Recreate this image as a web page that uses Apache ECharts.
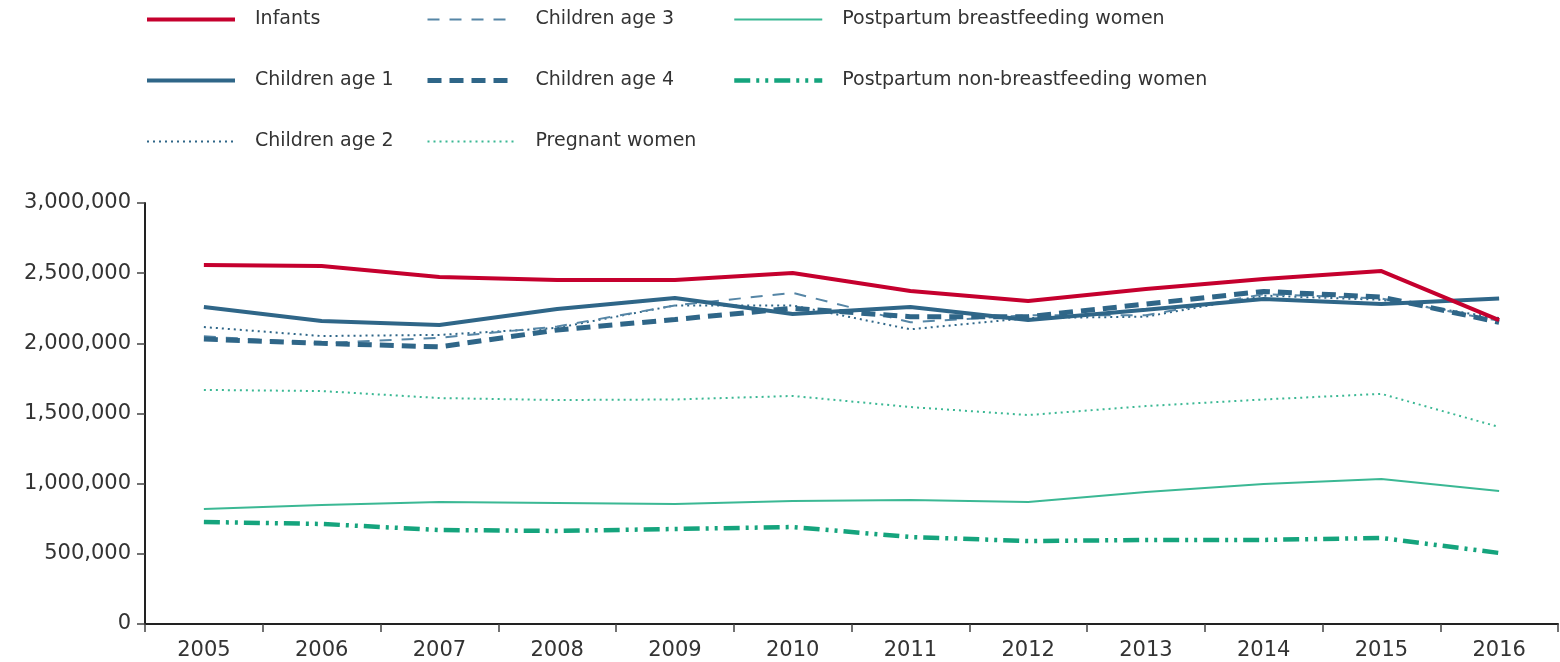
<!DOCTYPE html>
<html>
<head>
<meta charset="utf-8">
<script src="https://cdn.jsdelivr.net/npm/echarts@6/dist/echarts.min.js"></script>
<style>
  html, body { margin: 0; padding: 0; background: #fff; }
  #chart { width: 1560px; height: 662px; }
</style>
</head>
<body>
<div id="chart"></div>
<script>
// Years on the x axis
const years = ['2005', '2006', '2007', '2008', '2009', '2010', '2011', '2012', '2013', '2014', '2015', '2016'];

// Participants per category
const infants = [2558000, 2551000, 2473000, 2451000, 2451000, 2501000, 2373000, 2302000, 2387000, 2458000, 2515000, 2166000];
const childrenAge1 = [2259000, 2159000, 2131000, 2245000, 2323000, 2209000, 2259000, 2166000, 2240000, 2316000, 2280000, 2320000];
const childrenAge2 = [2116000, 2052000, 2060000, 2110000, 2270000, 2270000, 2100000, 2180000, 2190000, 2340000, 2310000, 2180000];
const childrenAge3 = [2050000, 2000000, 2040000, 2120000, 2270000, 2360000, 2150000, 2200000, 2200000, 2350000, 2320000, 2160000];
const childrenAge4 = [2030000, 2000000, 1975000, 2095000, 2170000, 2250000, 2190000, 2190000, 2280000, 2370000, 2330000, 2150000];
const pregnant = [1668000, 1660000, 1610000, 1596000, 1600000, 1625000, 1546000, 1489000, 1553000, 1600000, 1640000, 1404000];
const breastfeeding = [820000, 848000, 869000, 862000, 855000, 877000, 884000, 869000, 940000, 998000, 1033000, 948000];
const nonBreastfeeding = [727000, 713000, 670000, 663000, 677000, 691000, 620000, 591000, 599000, 599000, 613000, 506000];

const RED = '#c5002e';
const BLUE = '#2f6688';
const LIGHTBLUE = '#5686a6';
const GREEN = '#3bb894';
const DARKGREEN = '#15a47d';
const FONT = 'DejaVu Sans';

const chart = echarts.init(document.getElementById('chart'));

function line(name, data, color, width, type, z) {
  return {
    name: name,
    type: 'line',
    data: data,
    symbol: 'none',
    z: z || 2,
    lineStyle: { color: color, width: width, type: type },
    itemStyle: { color: color },
    emphasis: { disabled: true }
  };
}

const legendBase = {
  orient: 'vertical',
  top: 5,
  itemWidth: 88,
  itemHeight: 14,
  itemGap: 42,
  itemStyle: { opacity: 0 },
  lineStyle: { width: 'inherit' },
  textStyle: { fontFamily: FONT, fontSize: 19, color: '#333', padding: [0, 0, 0, 15] },
  selectedMode: false
};

const option = {
  animation: false,
  textStyle: { fontFamily: FONT },
  legend: [
    Object.assign({}, legendBase, { left: 140, data: ['Infants', 'Children age 1', 'Children age 2'] }),
    Object.assign({}, legendBase, { left: 420, data: ['Children age 3', 'Children age 4', 'Pregnant women'] }),
    Object.assign({}, legendBase, { left: 727, data: ['Postpartum breastfeeding women', 'Postpartum non-breastfeeding women'] })
  ],
  grid: { left: 145, right: 2, top: 203, bottom: 38, containLabel: false },
  xAxis: {
    type: 'category',
    data: years,
    boundaryGap: true,
    axisLine: { lineStyle: { color: '#222', width: 2 } },
    axisTick: { show: true, length: 8, lineStyle: { color: '#444', width: 1.5 } },
    axisLabel: { color: '#333', fontSize: 21, margin: 16, fontFamily: FONT }
  },
  yAxis: {
    type: 'value',
    min: 0,
    max: 3000000,
    interval: 500000,
    splitLine: { show: false },
    axisLine: { show: true, lineStyle: { color: '#222', width: 2 } },
    axisTick: { show: true, length: 8, lineStyle: { color: '#444', width: 1.5 } },
    axisLabel: {
      color: '#333', fontSize: 21, margin: 14, fontFamily: FONT,
      formatter: v => v.toLocaleString('en-US')
    }
  },
  series: [
    line('Infants', infants, RED, 4, 'solid', 5),
    line('Children age 1', childrenAge1, BLUE, 4, 'solid', 4),
    line('Children age 2', childrenAge2, BLUE, 2, [2, 4], 3),
    line('Children age 3', childrenAge3, LIGHTBLUE, 2, [12, 10], 3),
    line('Children age 4', childrenAge4, BLUE, 5, [14, 8], 3),
    line('Pregnant women', pregnant, GREEN, 2, [2, 4], 2),
    line('Postpartum breastfeeding women', breastfeeding, GREEN, 2, 'solid', 2),
    line('Postpartum non-breastfeeding women', nonBreastfeeding, DARKGREEN, 4.5, [16, 6, 3, 6, 3, 6], 2)
  ]
};

chart.setOption(option);
</script>
</body>
</html>
